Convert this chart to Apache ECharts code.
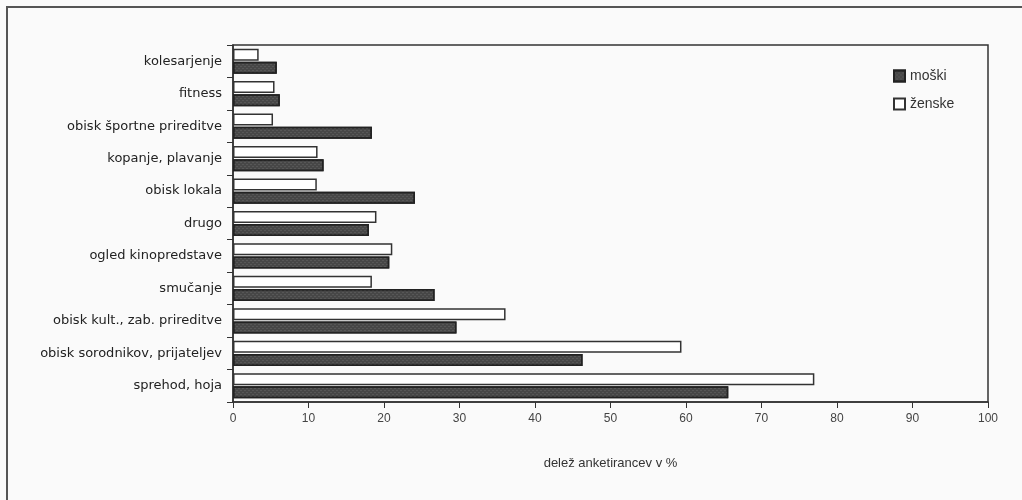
<!DOCTYPE html>
<html><head><meta charset="utf-8">
<script src="https://cdn.jsdelivr.net/npm/echarts@6/dist/echarts.min.js"></script>
<style>html,body{margin:0;padding:0;background:#fafafa;}#c{width:1022px;height:500px;}</style>
</head><body><div id="c"></div>
<script>
const categories = ['kolesarjenje','fitness','obisk športne prireditve','kopanje, plavanje','obisk lokala','drugo','ogled kinopredstave','smučanje','obisk kult., zab. prireditve','obisk sorodnikov, prijateljev','sprehod, hoja'];
const moski  = [5.8, 6.2, 18.4, 12.0, 24.1, 18.0, 20.7, 26.7, 29.6, 46.3, 65.6];
const zenske = [3.4, 5.5, 5.3, 11.2, 11.1, 19.0, 21.1, 18.4, 36.1, 59.4, 77.0];
const xTicks = [0,10,20,30,40,50,60,70,80,90,100];

const chart = echarts.init(document.getElementById('c'));
const font = 'Liberation Sans, Arial, sans-serif';
const darkDecal = {symbol:'rect', symbolSize:0.7, color:'rgba(150,150,150,0.6)', dashArrayX:[[2,2],[0,2,2,0]], dashArrayY:[1,1], rotation:0};
chart.setOption({
  backgroundColor:'#fafafa',
  animation:false,
  graphic:[{type:'rect', shape:{x:7,y:7,width:1040,height:520}, style:{fill:'none', stroke:'#555', lineWidth:2}}],
  legend:{
    data:['moški','ženske'], orient:'vertical', left:888, top:64, itemWidth:11, itemHeight:11, itemGap:14,
    textStyle:{fontFamily:font, fontSize:14, color:'#333'}, icon:'rect'
  },
  grid:{left:233, right:34, top:45, bottom:98, show:true, borderColor:'#333', borderWidth:1.5, backgroundColor:'transparent'},
  xAxis:{
    type:'value', min:0, max:100, interval:10,
    name:'delež anketirancev v %', nameLocation:'middle', nameGap:55,
    nameTextStyle:{fontFamily:font, fontSize:13, color:'#333'},
    axisLine:{show:true, lineStyle:{color:'#333', width:1.5}},
    axisTick:{show:true, length:6, lineStyle:{color:'#333'}},
    axisLabel:{fontFamily:font, fontSize:12, color:'#444', margin:11, formatter:v=>xTicks.includes(v)?String(v):''},
    splitLine:{show:false}
  },
  yAxis:{
    type:'category', data:categories, inverse:true,
    axisLine:{show:true, lineStyle:{color:'#333', width:1.5}},
    axisTick:{show:true, length:6, lineStyle:{color:'#333'}},
    axisLabel:{fontFamily:'DejaVu Sans, sans-serif', fontSize:13, color:'#222', margin:11}
  },
  series:[
    {name:'ženske', type:'bar', data:zenske, barWidth:12, barGap:'10%',
     itemStyle:{color:'#ffffff', borderColor:'#333', borderWidth:1.5}},
    {name:'moški', type:'bar', data:moski, barWidth:12, barGap:'10%',
     itemStyle:{color:'#474747', borderColor:'#222', borderWidth:1.5, decal:darkDecal}}
  ]
});
</script></body></html>
